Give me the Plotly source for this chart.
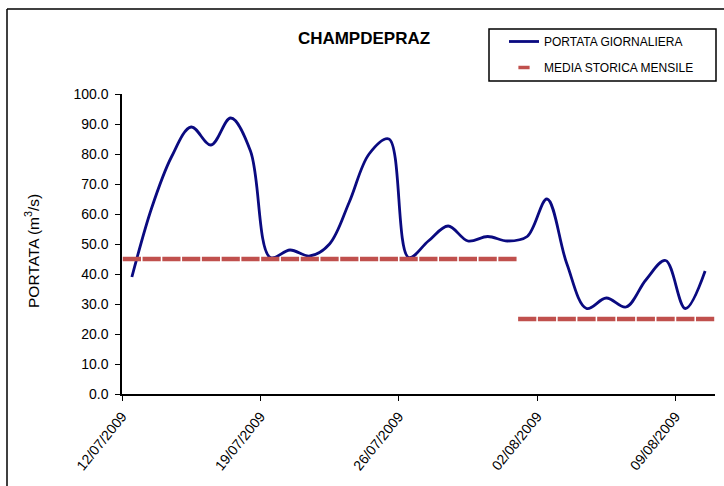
import pandas as pd
import plotly.graph_objects as go

# ---- data ----
date_labels = ["12/07/2009", "13/07/2009", "14/07/2009", "15/07/2009", "16/07/2009",
               "17/07/2009", "18/07/2009", "19/07/2009", "20/07/2009", "21/07/2009",
               "22/07/2009", "23/07/2009", "24/07/2009", "25/07/2009", "26/07/2009",
               "27/07/2009", "28/07/2009", "29/07/2009", "30/07/2009", "31/07/2009",
               "01/08/2009", "02/08/2009", "03/08/2009", "04/08/2009", "05/08/2009",
               "06/08/2009", "07/08/2009", "08/08/2009", "09/08/2009", "10/08/2009"]
portata = [39.0, 62.0, 79.0, 89.0, 83.0, 92.0, 81.0, 45.5, 48.0, 46.0,
           50.0, 64.0, 80.0, 85.0, 45.5, 51.0, 56.0, 51.0, 52.5, 51.0,
           52.5, 65.0, 43.5, 28.5, 32.0, 29.0, 38.0, 44.5, 28.5, 41.0]
media_storica = [45.0, 45.0, 45.0, 45.0, 45.0, 45.0, 45.0, 45.0, 45.0, 45.0,
                 45.0, 45.0, 45.0, 45.0, 45.0, 45.0, 45.0, 45.0, 45.0, 45.0,
                 25.0, 25.0, 25.0, 25.0, 25.0, 25.0, 25.0, 25.0, 25.0, 25.0]
tick_labels = ["12/07/2009", "19/07/2009", "26/07/2009", "02/08/2009", "09/08/2009"]
y_ticks = [0, 10, 20, 30, 40, 50, 60, 70, 80, 90, 100]

# ---- positions (points centered in each day, as in Excel date axis) ----
days = pd.to_datetime(date_labels, format="%d/%m/%Y")
x_pts = days + pd.Timedelta(hours=12)
tick_vals = pd.to_datetime(tick_labels, format="%d/%m/%Y")
x_range = [days[0], days[-1] + pd.Timedelta(days=1)]

FONT = "Liberation Sans, Arial, sans-serif"
W, H = 724, 486
L, R, T, B = 122, 9, 94, 92
PW, PH = W - L - R, H - T - B
RED = "#C0504D"


def px_x(px):
    return (px - L) / PW


def px_y(py):
    return (H - B - py) / PH


fig = go.Figure()
fig.add_trace(go.Scatter(
    x=x_pts, y=portata, mode="lines", name="PORTATA GIORNALIERA",
    line=dict(color="#0A0A80", width=2.8, shape="spline", smoothing=1.0),
    legendgroup="a",
))
fig.add_trace(go.Scatter(
    x=x_pts, y=media_storica, mode="markers", name="MEDIA STORICA MENSILE",
    marker=dict(symbol="line-ew", size=13, color=RED,
                line=dict(color=RED, width=4.5)),
    legendgroup="b", showlegend=False,
))
# legend entry with the small dash marker shown in the reference legend
fig.add_trace(go.Scatter(
    x=[None], y=[None], mode="markers", name="MEDIA STORICA MENSILE",
    marker=dict(symbol="line-ew", size=8, color=RED,
                line=dict(color=RED, width=3.5)),
    legendgroup="b", showlegend=True, hoverinfo="skip",
))

fig.update_layout(
    width=W, height=H,
    margin=dict(l=L, r=R, t=T, b=B, autoexpand=False),
    paper_bgcolor="white", plot_bgcolor="white",
    font=dict(family=FONT, color="black"),
    showlegend=True,
    legend=dict(
        x=px_x(504), y=px_y(27), xanchor="left", yanchor="top",
        borderwidth=0, bgcolor="rgba(0,0,0,0)",
        font=dict(size=12, family=FONT), tracegroupgap=7,
        itemwidth=30, itemsizing="trace",
    ),
    title=dict(
        text="<b>CHAMPDEPRAZ</b>", xref="container", yref="container",
        x=364 / W, y=1 - 38 / H, xanchor="center", yanchor="middle",
        font=dict(size=17, family=FONT),
    ),
    xaxis=dict(
        type="date", range=x_range,
        tickvals=tick_vals, ticktext=tick_labels, tickangle=-51,
        ticks="outside", ticklen=5, tickwidth=1.3, tickcolor="black",
        showline=True, linecolor="black", linewidth=1.5,
        showgrid=False, zeroline=False, ticklabelstandoff=2,
        tickfont=dict(size=14, family=FONT),
    ),
    yaxis=dict(
        range=[0, 100], tickvals=y_ticks, tickformat=".1f",
        ticks="outside", ticklen=5, tickwidth=1.3, tickcolor="black",
        showline=True, linecolor="black", linewidth=1.5,
        showgrid=False, zeroline=False, ticklabelstandoff=4,
        tickfont=dict(size=14, family=FONT),
    ),
    annotations=[dict(
        text="PORTATA (m<sup>3</sup>/s)", xref="paper", yref="paper",
        x=px_x(32), y=px_y(251), xanchor="center", yanchor="middle",
        textangle=-90, showarrow=False, font=dict(size=15.5, family=FONT),
    )],
    shapes=[
        # chart-area border (top and left edges visible)
        dict(type="line", xref="paper", yref="paper",
             x0=px_x(7), x1=px_x(W), y0=px_y(9), y1=px_y(9),
             line=dict(color="black", width=1.5)),
        dict(type="line", xref="paper", yref="paper",
             x0=px_x(7), x1=px_x(7), y0=px_y(9), y1=px_y(H),
             line=dict(color="black", width=1.5)),
        # legend box
        dict(type="rect", xref="paper", yref="paper",
             x0=px_x(489), x1=px_x(716), y0=px_y(29), y1=px_y(81),
             line=dict(color="black", width=1.5)),
    ],
)

fig.write_html(
    "out.html",
    config={"displayModeBar": False},
    post_script="document.body.style.margin='0';document.body.style.overflow='hidden';",
)
